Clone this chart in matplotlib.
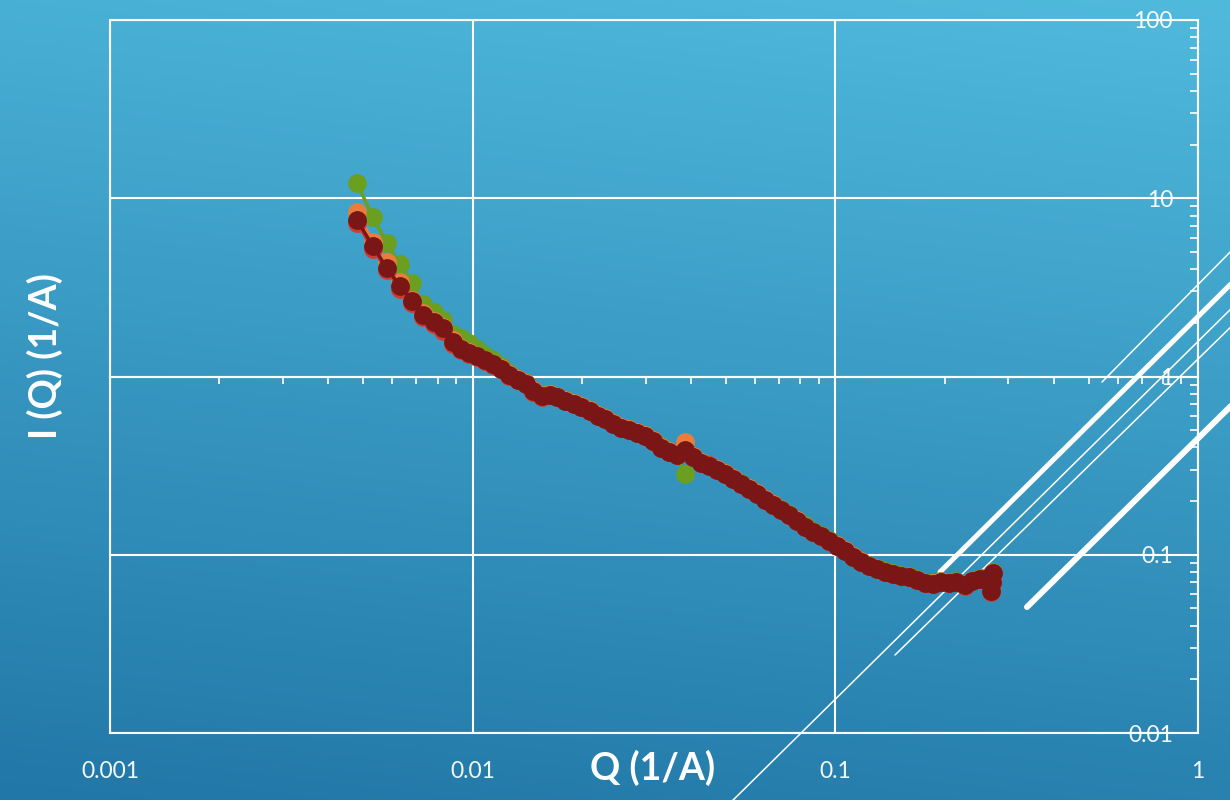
import numpy as np
import matplotlib
matplotlib.use("Agg")
import matplotlib.pyplot as plt
from matplotlib.ticker import FixedLocator, NullFormatter, LogLocator

# Scattering vector Q (1/A)
q = [0.0048, 0.0053, 0.0058, 0.0063, 0.0068, 0.0073, 0.0078, 0.0083, 0.0088, 0.0093,
     0.0098, 0.0103, 0.0108, 0.0114, 0.0120, 0.0126, 0.0133, 0.0140, 0.0147, 0.0155,
     0.0163, 0.0171, 0.0180, 0.0190, 0.0199, 0.0210, 0.0221, 0.0232, 0.0244, 0.0257,
     0.0270, 0.0284, 0.0299, 0.0315, 0.0331, 0.0348, 0.0366, 0.0385, 0.0405, 0.0426,
     0.0448, 0.0472, 0.0496, 0.0522, 0.0549, 0.0578, 0.0608, 0.0639, 0.0673, 0.0708,
     0.0744, 0.0783, 0.0824, 0.0867, 0.0912, 0.0959, 0.1009, 0.1061, 0.1117, 0.1175,
     0.1236, 0.1300, 0.1368, 0.1439, 0.1514, 0.1592, 0.1675, 0.1762, 0.1854, 0.1950,
     0.2052, 0.2158, 0.2271, 0.2389, 0.2513, 0.2644, 0.2680, 0.2720, 0.2710]

# Intensity I(Q) for the four samples
i_green = [12.2, 7.85, 5.61, 4.28, 3.35, 2.55, 2.30, 2.07, 1.73, 1.64,
           1.54, 1.42, 1.32, 1.23, 1.14, 1.05, 0.970, 0.920, 0.845, 0.790,
           0.800, 0.775, 0.740, 0.710, 0.685, 0.650, 0.610, 0.585, 0.550, 0.522,
           0.508, 0.490, 0.470, 0.442, 0.405, 0.383, 0.366, 0.284, 0.360, 0.333,
           0.320, 0.304, 0.288, 0.270, 0.253, 0.238, 0.222, 0.206, 0.193, 0.181,
           0.170, 0.157, 0.146, 0.136, 0.129, 0.121, 0.114, 0.107, 0.0985, 0.0925,
           0.0875, 0.0840, 0.0810, 0.0790, 0.0768, 0.0758, 0.0730, 0.0702, 0.0695, 0.0712,
           0.0700, 0.0712, 0.0685, 0.0720, 0.0738, 0.0750, 0.0640, 0.0800, 0.0715]

i_orange = [8.37, 5.68, 4.39, 3.39, 2.69, 2.27, 2.05, 1.90, 1.60, 1.45,
            1.37, 1.31, 1.245, 1.18, 1.11, 1.03, 0.962, 0.915, 0.835, 0.785,
            0.795, 0.772, 0.735, 0.706, 0.680, 0.645, 0.606, 0.582, 0.546, 0.518,
            0.505, 0.486, 0.467, 0.440, 0.402, 0.381, 0.368, 0.429, 0.356, 0.330,
            0.318, 0.302, 0.286, 0.268, 0.251, 0.236, 0.221, 0.205, 0.192, 0.179,
            0.168, 0.156, 0.144, 0.135, 0.128, 0.120, 0.113, 0.106, 0.0978, 0.0918,
            0.0870, 0.0836, 0.0805, 0.0784, 0.0764, 0.0754, 0.0726, 0.0698, 0.0690, 0.0708,
            0.0697, 0.0707, 0.0680, 0.0716, 0.0735, 0.0745, 0.0632, 0.0795, 0.0705]

i_red = [7.30, 5.20, 3.95, 3.10, 2.58, 2.15, 1.98, 1.80, 1.52, 1.40,
         1.33, 1.29, 1.225, 1.165, 1.095, 1.01, 0.950, 0.902, 0.822, 0.772,
         0.790, 0.770, 0.732, 0.703, 0.676, 0.642, 0.603, 0.580, 0.544, 0.516,
         0.503, 0.484, 0.466, 0.437, 0.399, 0.379, 0.365, 0.380, 0.355, 0.329,
         0.317, 0.300, 0.285, 0.267, 0.250, 0.235, 0.220, 0.204, 0.191, 0.178,
         0.167, 0.155, 0.143, 0.134, 0.127, 0.119, 0.112, 0.105, 0.0968, 0.0908,
         0.0860, 0.0828, 0.0796, 0.0776, 0.0756, 0.0746, 0.0718, 0.0690, 0.0681, 0.0699,
         0.0690, 0.0699, 0.0672, 0.0708, 0.0727, 0.0737, 0.0615, 0.0785, 0.0690]

i_darkred = [7.55, 5.40, 4.06, 3.22, 2.65, 2.21, 2.02, 1.87, 1.56, 1.43,
             1.354, 1.303, 1.238, 1.175, 1.102, 1.020, 0.956, 0.908, 0.829, 0.777,
             0.787, 0.767, 0.729, 0.701, 0.674, 0.640, 0.600, 0.577, 0.541, 0.514,
             0.501, 0.482, 0.464, 0.435, 0.397, 0.377, 0.363, 0.387, 0.353, 0.327,
             0.315, 0.299, 0.284, 0.266, 0.249, 0.234, 0.219, 0.203, 0.190, 0.178,
             0.167, 0.155, 0.143, 0.134, 0.127, 0.119, 0.112, 0.105, 0.0971, 0.0911,
             0.0865, 0.0832, 0.0800, 0.0780, 0.0760, 0.0750, 0.0722, 0.0694, 0.0685, 0.0703,
             0.0694, 0.0703, 0.0676, 0.0712, 0.0731, 0.0741, 0.0625, 0.0790, 0.0700]

series = [(i_green, "#6b9f1f"), (i_orange, "#eb7d3c"), (i_red, "#d43a2c"), (i_darkred, "#7a1616")]

x_ticks = [0.001, 0.01, 0.1, 1]
x_tick_labels = ["0.001", "0.01", "0.1", "1"]
y_ticks = [0.01, 0.1, 1, 10, 100]
y_tick_labels = ["0.01", "0.1", "1", "10", "100"]

W, H = 1230, 800
fig = plt.figure(figsize=(W / 100, H / 100), dpi=100)

# Slide-style blue gradient background with decorative diagonal strokes
bg = fig.add_axes([0, 0, 1, 1], zorder=-5)
yy, xx = np.mgrid[0:H, 0:W]
t = np.clip(0.85 * yy / H + 0.15 * (1 - xx / W), 0, 1)[..., None]
top = np.array([80, 186, 221]) / 255.0
bottom = np.array([33, 119, 167]) / 255.0
bg.imshow(top * (1 - t) + bottom * t, extent=[0, W, H, 0], aspect="auto", interpolation="bilinear")
strokes = [((1102, 382), (1240, 242), 1.1),
           ((940, 572), (1240, 275), 3.6),
           ((723, 810), (1240, 300), 1.1),
           ((895, 655), (1240, 318), 1.1),
           ((1027, 607), (1240, 397), 4.3)]
for (x0, y0), (x1, y1), lw in strokes:
    bg.plot([x0, x1], [y0, y1], color="white", lw=lw, solid_capstyle="round")
bg.set_xlim(0, W)
bg.set_ylim(H, 0)
bg.axis("off")

ax = fig.add_axes([110 / W, 1 - 733 / H, (1198 - 110) / W, (733 - 20) / H])
ax.patch.set_alpha(0)
ax.set_xscale("log")
ax.set_yscale("log")
ax.set_xlim(x_ticks[0], x_ticks[-1])
ax.set_ylim(y_ticks[0], y_ticks[-1])

for vals, col in series:
    ax.plot(q, vals, color=col, lw=2.5, marker="o", ms=12.5, mec=col, mfc=col, zorder=3)

ax.grid(True, which="major", color="white", lw=1.5)
ax.set_axisbelow(True)

# Spines: x axis crosses at I = 1, y axis at the right edge
for s in ["left", "bottom", "right"]:
    ax.spines[s].set_color("white")
    ax.spines[s].set_linewidth(1.5)
ax.spines["top"].set_position(("data", 1))
ax.spines["top"].set_color("white")
ax.spines["top"].set_linewidth(1.5)
ax.axhline(y_ticks[-1], color="white", lw=1.5, clip_on=False)

tick_font = dict(family=["Lato", "DejaVu Sans"], weight="normal", size=16.5)

ax.xaxis.set_major_locator(FixedLocator(x_ticks))
ax.xaxis.set_minor_locator(LogLocator(base=10, subs=np.arange(2, 10)))
ax.xaxis.set_minor_formatter(NullFormatter())
ax.set_xticks(x_ticks, x_tick_labels)
ax.tick_params(axis="x", which="both", bottom=False, top=True, labelbottom=True, labeltop=False,
               direction="in", color="white", width=1.2, pad=20, labelcolor="white")
ax.tick_params(axis="x", which="minor", length=5)
ax.tick_params(axis="x", which="major", length=0)
for lbl in ax.get_xticklabels():
    lbl.set_fontproperties(tick_font)
    lbl.set_alpha(0.95)

ax.yaxis.set_major_locator(FixedLocator(y_ticks))
ax.yaxis.set_minor_locator(LogLocator(base=10, subs=np.arange(2, 10)))
ax.yaxis.set_minor_formatter(NullFormatter())
ax.set_yticks(y_ticks, y_tick_labels)
ax.tick_params(axis="y", which="both", left=False, right=True, labelleft=False, labelright=True,
               direction="in", color="white", width=1.2, labelcolor="white")
ax.tick_params(axis="y", which="minor", length=5.5)
ax.tick_params(axis="y", which="major", length=0, pad=-18)
for lbl in ax.get_yticklabels():
    lbl.set_fontproperties(tick_font)
    lbl.set_horizontalalignment("right")
    lbl.set_alpha(0.95)

label_font = dict(family=["Lato", "DejaVu Sans"], weight="bold", size=27, color="white")
fig.text(653 / W, 1 - 768 / H, "Q (1/A)", ha="center", va="center", **label_font)
fig.text(45 / W, 1 - 356 / H, "I (Q) (1/A)", ha="center", va="center", rotation=90, **label_font)

fig.savefig("out.png", dpi=100)
